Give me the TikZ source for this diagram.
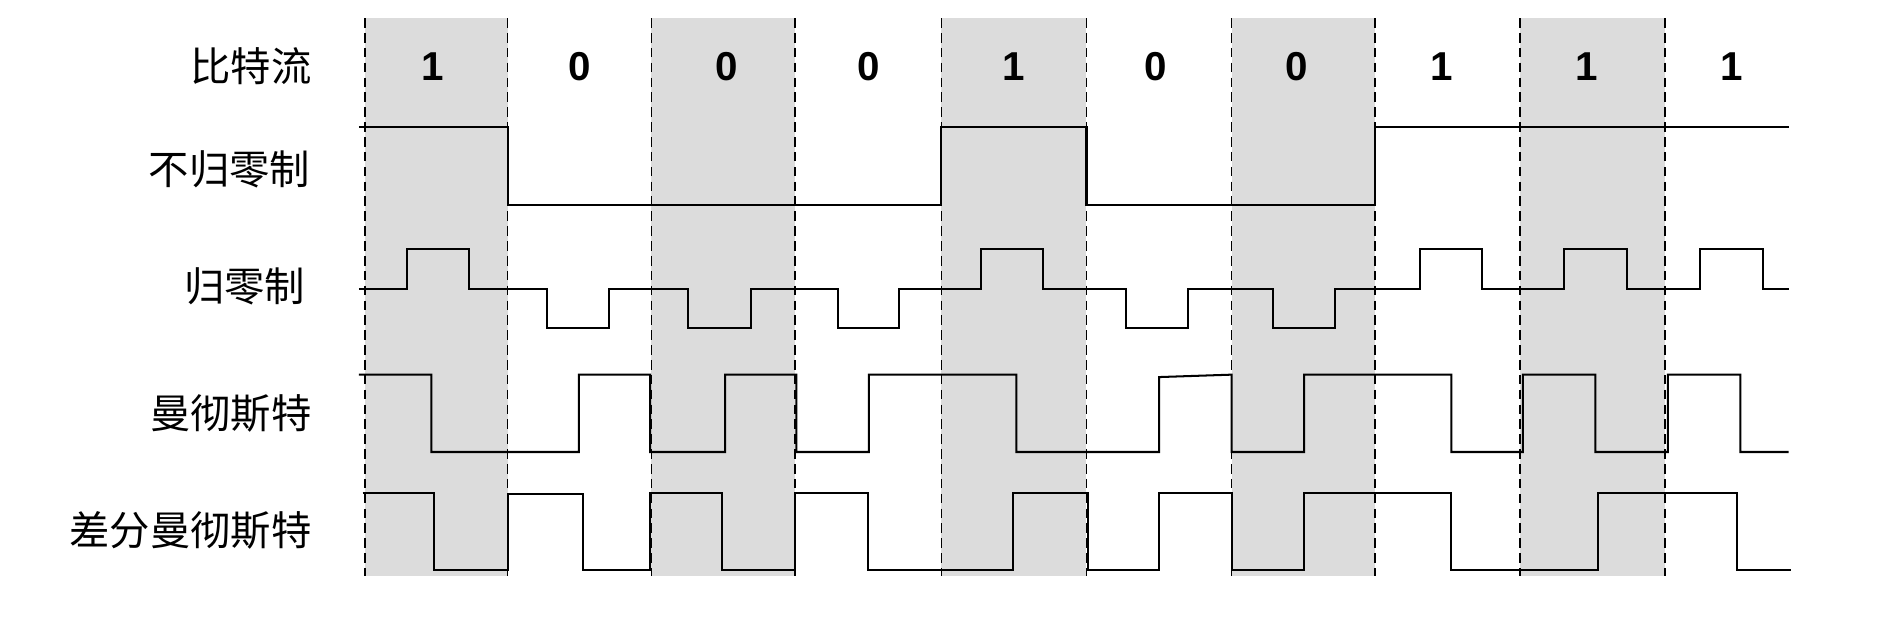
\documentclass[tikz,border=0pt]{standalone}
\usepackage{fontspec}
\setmainfont{Liberation Sans}
\newfontfamily\cjk{Noto Sans CJK SC}
\definecolor{shadegray}{HTML}{DCDCDC}
\begin{document}
\begin{tikzpicture}[x=0.02cm,y=-0.02cm,
  lab/.style={font=\cjk\fontsize{19}{19}\selectfont, anchor=base east, inner sep=0},
  bitlabel/.style={font=\fontsize{19}{19}\selectfont\bfseries, anchor=base, inner sep=0},
  sig/.style={line width=0.95pt, line join=miter},
  gridline/.style={line width=0.85pt, dash pattern=on 4.5pt off 2.5pt}]
\useasboundingbox (0,0) rectangle (1568,514);
% shaded cells
\foreach \a/\b in {302/420, 539/658, 779/899, 1019/1138, 1258/1378}
  \fill[shadegray] (\a,15) rectangle (\b,477);
% dashed bit boundaries
\foreach \x in {302,420,539,658,779,899,1019,1138,1258,1378}
  \draw[gridline] (\x,15) -- (\x,477);
% labels
\node[lab] (lbits) at (258,67.5) {比特流};
\node[lab] (lnrz) at (257,153) {不归零制};
\node[lab] (lrz) at (253,249.5) {归零制};
\node[lab] (lman) at (258,354.5) {曼彻斯特};
\node[lab] (ldman) at (258,451) {差分曼彻斯特};
% bits
\foreach \x/\v [count=\i] in {358/1,480/0,601/0,719/0,839/1,956/0,1073/0,1193/1,1313/1,1433/1}
  \node[bitlabel] (b\i) at (\x,67) {\v};
% NRZ
\draw[sig] (297,105) -- (420,105) -- (420,170) -- (779,170) -- (779,105) -- (899,105) -- (899,170) -- (1138,170) -- (1138,105) -- (1480,105);
% RZ
\draw[sig] (297,239) -- (337,239) -- (337,206) -- (388,206) -- (388,239) -- (453,239) -- (453,271) -- (504,271) -- (504,239) -- (569,239) -- (569,271) -- (621,271) -- (621,239) -- (693,239) -- (693,271) -- (744,271) -- (744,239) -- (812,239) -- (812,206) -- (863,206) -- (863,239) -- (932,239) -- (932,271) -- (983,271) -- (983,239) -- (1053,239) -- (1053,271) -- (1105,271) -- (1105,239) -- (1175,239) -- (1175,206) -- (1226,206) -- (1226,239) -- (1294,239) -- (1294,206) -- (1346,206) -- (1346,239) -- (1407,239) -- (1407,206) -- (1459,206) -- (1459,239) -- (1480,239);
% Manchester
\draw[sig] (297,310) -- (357,310) -- (357,374) -- (479,374) -- (479,310) -- (538,310) -- (538,374) -- (600,374) -- (600,310) -- (659,310) -- (659,374) -- (719,374) -- (719,310) -- (841,310) -- (841,374) -- (959,374) -- (959,312) -- (1019,310) -- (1019,374) -- (1079,374) -- (1079,310) -- (1201,310) -- (1201,374) -- (1260,374) -- (1260,310) -- (1320,310) -- (1320,374) -- (1380,374) -- (1380,310) -- (1440,310) -- (1440,374) -- (1480,374);
% Differential Manchester
\draw[sig] (300,408) -- (359,408) -- (359,472) -- (420,472) -- (420,409) -- (482,409) -- (482,472) -- (538,472) -- (538,408) -- (597,408) -- (597,472) -- (658,472) -- (658,408) -- (718,408) -- (718,472) -- (838,472) -- (838,408) -- (900,408) -- (900,472) -- (959,472) -- (959,408) -- (1019,408) -- (1019,472) -- (1079,472) -- (1079,408) -- (1201,408) -- (1201,472) -- (1322,472) -- (1322,408) -- (1437,408) -- (1437,472) -- (1482,472);
\end{tikzpicture}
\end{document}
